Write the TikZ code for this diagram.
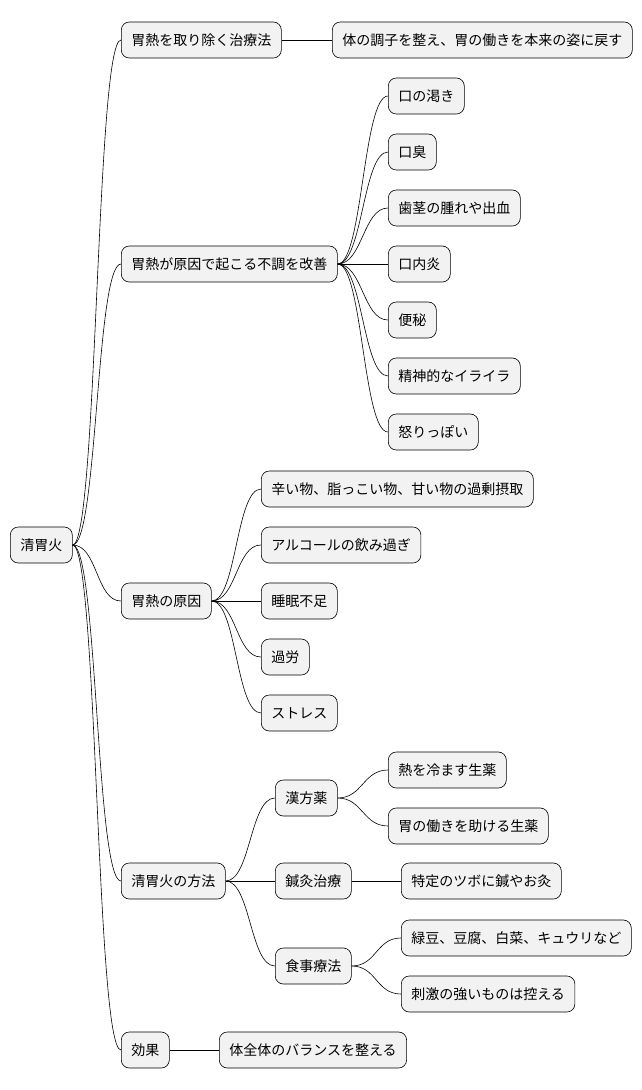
\documentclass[tikz,border=0pt]{standalone}
\usepackage{fontspec}
\setmainfont{Noto Sans CJK JP}
\begin{document}
\begin{tikzpicture}[x=1pt,y=-1pt,
  nd/.style={draw=black,fill=black!5,rounded corners=8pt,anchor=west,minimum height=36pt,inner xsep=10pt,inner ysep=0pt,font=\fontsize{14}{16}\selectfont,line width=0.6pt},
  ln/.style={line width=0.6pt}]
\useasboundingbox (0,0) rectangle (642,1090);
\node[nd] (r) at (10,545) {清胃火};
\node[nd] (a) at (121,40) {胃熱を取り除く治療法};
\node[nd] (a1) at (332,40) {体の調子を整え、胃の働きを本来の姿に戻す};
\node[nd] (b) at (121,264) {胃熱が原因で起こる不調を改善};
\node[nd] (b1) at (388,96) {口の渇き};
\node[nd] (b2) at (388,152) {口臭};
\node[nd] (b3) at (388,208) {歯茎の腫れや出血};
\node[nd] (b4) at (388,264) {口内炎};
\node[nd] (b5) at (388,320) {便秘};
\node[nd] (b6) at (388,376) {精神的なイライラ};
\node[nd] (b7) at (388,432) {怒りっぽい};
\node[nd] (c) at (121,601) {胃熱の原因};
\node[nd] (c1) at (261,489) {辛い物、脂っこい物、甘い物の過剰摂取};
\node[nd] (c2) at (261,545) {アルコールの飲み過ぎ};
\node[nd] (c3) at (261,601) {睡眠不足};
\node[nd] (c4) at (261,657) {過労};
\node[nd] (c5) at (261,713) {ストレス};
\node[nd] (d) at (121,881) {清胃火の方法};
\node[nd] (d1) at (275,798) {漢方薬};
\node[nd] (d11) at (388,770) {熱を冷ます生薬};
\node[nd] (d12) at (388,826) {胃の働きを助ける生薬};
\node[nd] (d2) at (275,881) {鍼灸治療};
\node[nd] (d21) at (401,881) {特定のツボに鍼やお灸};
\node[nd] (d3) at (275,966) {食事療法};
\node[nd] (d31) at (401,938) {緑豆、豆腐、白菜、キュウリなど};
\node[nd] (d32) at (401,994) {刺激の強いものは控える};
\node[nd] (e) at (121,1050) {効果};
\node[nd] (e1) at (219,1050) {体全体のバランスを整える};
\foreach \p/\c in {r/a,r/b,r/c,r/d,r/e,a/a1,b/b1,b/b2,b/b3,b/b4,b/b5,b/b6,b/b7,c/c1,c/c2,c/c3,c/c4,c/c5,d/d1,d/d2,d/d3,d1/d11,d1/d12,d2/d21,d3/d31,d3/d32,e/e1}
  \draw[ln] (\p.east) .. controls ([xshift=25pt]\p.east) and ([xshift=-25pt]\c.west) .. (\c.west);
\end{tikzpicture}
\end{document}
